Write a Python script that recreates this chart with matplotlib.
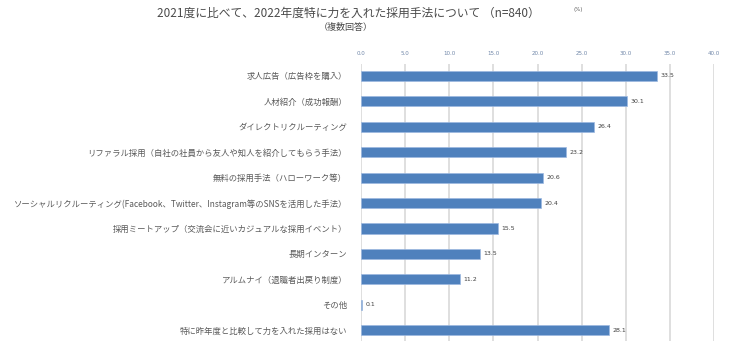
import matplotlib
matplotlib.use("Agg")
import matplotlib.pyplot as plt

plt.rcParams['font.family'] = ['Noto Sans CJK JP', 'DejaVu Sans']

categories = [
    "求人広告（広告枠を購入）",
    "人材紹介（成功報酬）",
    "ダイレクトリクルーティング",
    "リファラル採用（自社の社員から友人や知人を紹介してもらう手法）",
    "無料の採用手法（ハローワーク等）",
    "ソーシャルリクルーティング(Facebook、Twitter、Instagram等のSNSを活用した手法）",
    "採用ミートアップ（交流会に近いカジュアルな採用イベント）",
    "長期インターン",
    "アルムナイ（退職者出戻り制度）",
    "その他",
    "特に昨年度と比較して力を入れた採用はない",
]
values = [33.5, 30.1, 26.4, 23.2, 20.6, 20.4, 15.5, 13.5, 11.2, 0.1, 28.1]
xticks = [0, 5, 10, 15, 20, 25, 30, 35, 40]

fig = plt.figure(figsize=(7.39, 3.41), dpi=100)
ax = fig.add_axes([361/739, 0.0, (714-361)/739, 1 - 64/341])

y = list(range(len(categories)))
ax.barh(y, values, height=0.4, color='#4F81BD', edgecolor='#9DB9E0', linewidth=0.5, zorder=3)
for yi, v in zip(y, values):
    ax.text(v + 0.4, yi, f"{v:.1f}", va='center', ha='left', fontsize=4.5, color='#404040',
            family=['DejaVu Sans'])

ax.set_xlim(0, 40)
ax.set_ylim(len(categories) - 0.57, -0.47)
ax.set_xticks(xticks)
ax.set_xticklabels([f"{t:.1f}" for t in xticks], fontsize=4, color='#6f86a8', family=['DejaVu Sans'])
ax.xaxis.tick_top()
ax.tick_params(axis='x', length=0, pad=6)
ax.set_yticks(y)
ax.set_yticklabels(categories, fontsize=6, color='#595959')
ax.tick_params(axis='y', length=0, pad=10)
ax.grid(axis='x', color='#d9d9d9', linewidth=1.2, zorder=0)
for s in ax.spines.values():
    s.set_visible(False)

fig.text(157/739, 1 - 13/341, "2021度に比べて、2022年度特に力を入れた採用手法について （n=840）",
         ha='left', va='center', fontsize=8.5, color='#4a4a4a')
fig.text(346/739, 1 - 27/341, "（複数回答）", ha='center', va='center', fontsize=6.5, color='#4a4a4a')
fig.text(578/739, 1 - 10/341, "(%)", ha='center', va='center', fontsize=4, color='#595959',
         family=['DejaVu Sans'])

fig.savefig("out.png", dpi=100)
